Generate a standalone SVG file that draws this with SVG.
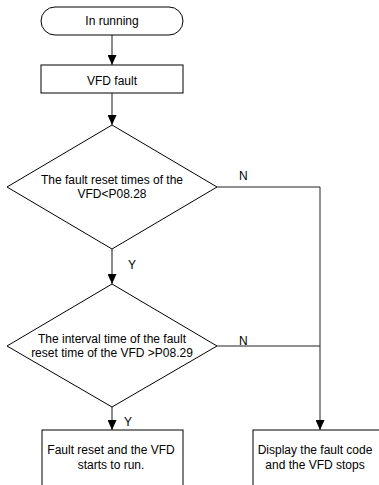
<svg xmlns="http://www.w3.org/2000/svg" width="379" height="485" viewBox="0 0 379 485">
<style>
.shape{fill:#fff;stroke:#000;stroke-width:1}
.t{font-family:"Liberation Sans",Arial,sans-serif;font-size:12px;fill:#000;text-anchor:middle}
.lbl{font-family:"Liberation Sans",Arial,sans-serif;font-size:12px;fill:#000}
.main{fill:none;stroke:#666;stroke-width:1.5}
.side{fill:none;stroke:#222;stroke-width:1}
</style>
<defs>
<marker id="ah" markerWidth="10" markerHeight="9" refX="10" refY="4.5" orient="auto" markerUnits="userSpaceOnUse" viewBox="0 0 10 9">
<path d="M0,0 L10,4.5 L0,9 Z" fill="#000"/>
</marker>
</defs>
<rect width="379" height="485" fill="#fff"/>
<g id="connectors">
<line class="main" x1="112" y1="35" x2="112" y2="65" marker-end="url(#ah)"/>
<line class="main" x1="112" y1="93" x2="112" y2="125" marker-end="url(#ah)"/>
<line class="main" x1="112" y1="249" x2="112" y2="284" marker-end="url(#ah)"/>
<line class="main" x1="112" y1="407" x2="112" y2="430" marker-end="url(#ah)"/>
<polyline class="side" points="217,187 320,187 320,430" marker-end="url(#ah)"/>
<line class="side" x1="217" y1="346" x2="320" y2="346"/>
<text class="lbl" x="239" y="180">N</text>
<text class="lbl" x="239" y="345">N</text>
<text class="lbl" x="128" y="269">Y</text>
<text class="lbl" x="124" y="426">Y</text>
</g>
<g id="start">
<rect class="shape" x="41" y="7" width="142" height="28" rx="14" ry="14"/>
<text class="t" x="112" y="25">In running</text>
</g>
<g id="fault">
<rect class="shape" x="41" y="65" width="142" height="28"/>
<text class="t" x="112" y="85">VFD fault</text>
</g>
<g id="decision1">
<polygon class="shape" points="112,125 217,187 112,249 7,187"/>
<text class="t" x="112" y="184">The fault reset times of the</text>
<text class="t" x="112" y="198">VFD&lt;P08.28</text>
</g>
<g id="decision2">
<polygon class="shape" points="112,284 217,346 112,407 7,346"/>
<text class="t" x="112" y="343">The interval time of the fault</text>
<text class="t" x="112" y="357">reset time of the VFD &gt;P08.29</text>
</g>
<g id="reset">
<rect class="shape" x="42" y="430" width="141" height="70"/>
<text class="t" x="111" y="454">Fault reset and the VFD</text>
<text class="t" x="111" y="469">starts to run.</text>
</g>
<g id="stop">
<rect class="shape" x="253" y="430" width="130" height="70"/>
<text class="t" x="315" y="454">Display the fault code</text>
<text class="t" x="315" y="469">and the VFD stops</text>
</g>
</svg>
